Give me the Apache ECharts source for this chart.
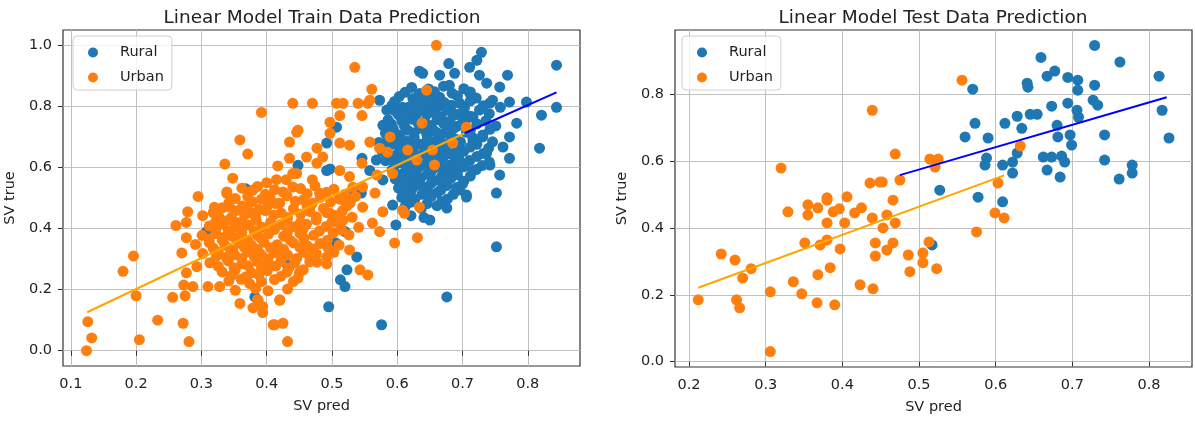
<!DOCTYPE html>
<html>
<head>
<meta charset="utf-8">
<title>Linear Model Prediction</title>
<script src="https://cdn.jsdelivr.net/npm/echarts@6/dist/echarts.min.js"></script>
<style>
  html, body { margin: 0; padding: 0; background: #fff; }
  #chart { width: 1195px; height: 421px; }
</style>
</head>
<body>
<div id="chart"></div>
<script>
// tick labels
const trainXTicks = [0.1, 0.2, 0.3, 0.4, 0.5, 0.6, 0.7, 0.8];
const trainYTicks = [0.0, 0.2, 0.4, 0.6, 0.8, 1.0];
const testXTicks = [0.2, 0.3, 0.4, 0.5, 0.6, 0.7, 0.8];
const testYTicks = [0.0, 0.2, 0.4, 0.6, 0.8];

// train data [SV pred, SV true]
const trainRural = [
  [0.368,0.53],[0.308,0.39],[0.448,0.607],[0.432,0.28],[0.382,0.176],
  [0.634,0.915],[0.573,0.82],[0.584,0.788],[0.608,0.797],[0.63,0.777],[0.507,0.732],[0.578,0.738],
  [0.492,0.68],[0.492,0.59],[0.546,0.63],[0.568,0.624],[0.558,0.59],[0.527,0.516],[0.545,0.516],
  [0.729,0.977],[0.722,0.951],[0.679,0.94],[0.688,0.908],[0.665,0.902],[0.711,0.928],[0.769,0.902],
  [0.844,0.935],[0.737,0.876],[0.726,0.902],[0.757,0.863],[0.639,0.908],[0.68,0.869],[0.711,0.843],
  [0.746,0.82],[0.772,0.814],[0.798,0.814],[0.844,0.797],[0.821,0.771],[0.818,0.663],[0.783,0.745],
  [0.772,0.70],[0.762,0.667],[0.772,0.63],[0.731,0.70],[0.742,0.608],[0.757,0.575],[0.752,0.516],
  [0.716,0.765],[0.696,0.81],[0.665,0.83],[0.65,0.797],[0.685,0.778],[0.7,0.745],[0.676,0.722],
  [0.645,0.712],[0.665,0.667],[0.716,0.69],[0.737,0.647],[0.7,0.614],[0.68,0.59],[0.716,0.59],
  [0.645,0.614],[0.665,0.56],[0.696,0.526],[0.65,0.516],[0.706,0.503],
  [0.589,0.732],[0.584,0.68],[0.599,0.634],[0.578,0.559],[0.497,0.595],
  [0.593,0.477],[0.65,0.428],[0.676,0.467],[0.598,0.412],[0.52,0.39],[0.506,0.353],[0.538,0.307],
  [0.523,0.265],[0.513,0.232],[0.52,0.21],[0.495,0.144],[0.576,0.085],[0.676,0.176],[0.752,0.34],
  [0.706,0.51],
  [0.622,0.862],[0.648,0.857],[0.671,0.866],[0.702,0.858],
  [0.603,0.832],[0.624,0.826],[0.643,0.835],[0.661,0.828],[0.692,0.834],[0.721,0.827],
  [0.592,0.803],[0.617,0.797],[0.641,0.806],[0.662,0.798],[0.683,0.804],[0.703,0.796],[0.732,0.802],[0.758,0.797],
  [0.602,0.772],[0.621,0.767],[0.646,0.775],[0.667,0.766],[0.691,0.773],[0.712,0.768],[0.741,0.776],
  [0.591,0.742],[0.611,0.736],[0.632,0.745],[0.652,0.737],[0.671,0.744],[0.692,0.735],[0.722,0.743],[0.751,0.736],
  [0.582,0.712],[0.603,0.706],[0.626,0.714],[0.646,0.705],[0.662,0.713],[0.681,0.707],[0.706,0.715],[0.731,0.706],
  [0.572,0.682],[0.596,0.677],[0.616,0.685],[0.636,0.676],[0.656,0.684],[0.676,0.675],[0.697,0.683],[0.722,0.676],[0.746,0.684],
  [0.577,0.652],[0.601,0.646],[0.621,0.655],[0.641,0.647],[0.661,0.654],[0.682,0.645],[0.702,0.653],[0.732,0.646],
  [0.582,0.622],[0.606,0.616],[0.627,0.625],[0.646,0.617],[0.666,0.624],[0.687,0.615],[0.711,0.623],[0.741,0.618],
  [0.592,0.592],[0.612,0.586],[0.631,0.595],[0.652,0.587],[0.671,0.594],[0.692,0.585],[0.721,0.593],
  [0.597,0.562],[0.617,0.556],[0.636,0.565],[0.657,0.557],[0.682,0.564],[0.702,0.555],
  [0.602,0.532],[0.622,0.526],[0.642,0.535],[0.667,0.527],[0.691,0.534],
  [0.607,0.502],[0.627,0.496],[0.652,0.505],[0.677,0.497],
  [0.612,0.472],[0.637,0.466],[0.661,0.475],
  [0.621,0.442],[0.641,0.436],
  [0.612,0.846],[0.634,0.842],[0.657,0.848],[0.684,0.843],[0.712,0.847],
  [0.596,0.816],[0.631,0.812],[0.652,0.818],[0.672,0.813],[0.712,0.818],[0.742,0.811],
  [0.596,0.786],[0.611,0.782],[0.632,0.788],[0.656,0.781],[0.676,0.787],[0.701,0.783],[0.726,0.788],
  [0.586,0.756],[0.607,0.752],[0.622,0.758],[0.642,0.751],[0.661,0.757],[0.681,0.752],[0.705,0.757],[0.736,0.753],
  [0.594,0.726],[0.616,0.722],[0.636,0.728],[0.656,0.721],[0.686,0.727],[0.712,0.722],[0.742,0.725],
  [0.586,0.696],[0.607,0.692],[0.626,0.698],[0.646,0.691],[0.666,0.697],[0.69,0.692],[0.716,0.697],
  [0.586,0.666],[0.606,0.662],[0.626,0.668],[0.646,0.661],[0.672,0.667],[0.692,0.662],[0.712,0.667],[0.74,0.663],
  [0.59,0.636],[0.612,0.632],[0.632,0.638],[0.652,0.631],[0.672,0.637],[0.694,0.632],[0.722,0.636],
  [0.596,0.606],[0.618,0.602],[0.638,0.608],[0.66,0.601],[0.68,0.607],[0.702,0.602],[0.73,0.606],
  [0.604,0.576],[0.624,0.572],[0.646,0.578],[0.668,0.571],[0.692,0.576],[0.712,0.572],
  [0.61,0.546],[0.63,0.542],[0.652,0.548],[0.676,0.541],[0.7,0.546],
  [0.616,0.516],[0.638,0.512],[0.662,0.518],[0.686,0.512],
  [0.62,0.486],[0.646,0.482],[0.668,0.488]
];

const trainUrban = [
  [0.126,0.095],[0.132,0.042],[0.124,0.0],[0.18,0.26],[0.196,0.31],[0.2,0.18],[0.205,0.036],
  [0.233,0.1],[0.256,0.175],[0.261,0.41],[0.272,0.09],[0.275,0.18],[0.273,0.215],[0.277,0.255],
  [0.281,0.03],[0.287,0.21],[0.277,0.37],[0.27,0.32],[0.277,0.42],[0.279,0.455],[0.293,0.275],
  [0.295,0.505],[0.31,0.21],[0.32,0.47],[0.323,0.31],[0.328,0.21],[0.333,0.37],[0.328,0.435],
  [0.343,0.47],[0.339,0.515],[0.348,0.33],[0.354,0.42],[0.359,0.155],[0.379,0.14],[0.387,0.165],
  [0.394,0.125],[0.42,0.165],[0.41,0.085],[0.425,0.09],[0.432,0.03],[0.374,0.22],
  [0.44,0.81],[0.392,0.78],[0.359,0.69],[0.371,0.644],[0.336,0.611],[0.348,0.565],[0.339,0.52],
  [0.435,0.683],[0.435,0.63],[0.417,0.605],[0.44,0.58],[0.446,0.715],[0.37,0.47],[0.379,0.526],
  [0.4,0.55],[0.415,0.56],[0.43,0.56],[0.405,0.503],[0.42,0.483],[0.325,0.438],
  [0.535,0.928],[0.47,0.81],[0.507,0.81],[0.517,0.81],[0.54,0.81],[0.555,0.81],[0.561,0.856],
  [0.558,0.82],[0.512,0.77],[0.546,0.77],[0.497,0.748],[0.448,0.722],[0.497,0.712],[0.477,0.663],
  [0.512,0.68],[0.527,0.673],[0.558,0.683],[0.461,0.634],[0.486,0.634],[0.573,0.663],[0.589,0.70],
  [0.585,0.65],[0.546,0.614],[0.477,0.614],[0.512,0.59],[0.527,0.57],[0.47,0.56],[0.569,0.575],
  [0.593,0.58],[0.446,0.58],[0.44,0.536],[0.481,0.516],[0.547,0.536],[0.566,0.516],[0.517,0.493],
  [0.466,0.47],[0.497,0.45],[0.547,0.47],[0.578,0.455],[0.611,0.45],[0.634,0.47],[0.616,0.657],
  [0.63,0.624],[0.517,0.428],[0.562,0.418],
  [0.66,1.0],[0.645,0.853],[0.638,0.745],[0.706,0.732],[0.685,0.68],[0.654,0.657],[0.657,0.608],
  [0.631,0.37],[0.596,0.353],[0.543,0.265],[0.555,0.248],[0.448,0.238],[0.42,0.167],[0.386,0.167],
  [0.412,0.085],[0.608,0.46],[0.573,0.39],[0.527,0.33],[0.492,0.307],[0.477,0.29],[0.45,0.255],
  [0.394,0.144],
  [0.362,0.532],[0.386,0.538],[0.412,0.527],[0.452,0.531],[0.474,0.54],[0.503,0.529],[0.532,0.535],
  [0.352,0.498],[0.371,0.505],[0.392,0.496],[0.431,0.507],[0.456,0.494],[0.482,0.502],[0.511,0.497],[0.536,0.505],
  [0.332,0.468],[0.363,0.474],[0.388,0.462],[0.402,0.476],[0.441,0.465],[0.462,0.472],[0.487,0.466],[0.523,0.474],
  [0.302,0.442],[0.346,0.436],[0.366,0.445],[0.383,0.438],[0.411,0.444],[0.432,0.436],[0.452,0.447],[0.476,0.438],[0.506,0.443],[0.531,0.437],
  [0.312,0.408],[0.333,0.414],[0.352,0.405],[0.372,0.412],[0.393,0.404],[0.421,0.413],[0.442,0.406],[0.461,0.414],[0.491,0.407],[0.512,0.411],[0.541,0.404],
  [0.301,0.378],[0.322,0.384],[0.346,0.376],[0.362,0.386],[0.386,0.377],[0.403,0.383],[0.426,0.375],[0.451,0.384],[0.472,0.378],[0.502,0.386],[0.526,0.379],
  [0.291,0.348],[0.312,0.354],[0.336,0.346],[0.358,0.352],[0.377,0.345],[0.396,0.355],[0.416,0.347],[0.441,0.353],[0.462,0.344],[0.482,0.351],[0.511,0.346],
  [0.302,0.318],[0.326,0.322],[0.351,0.314],[0.371,0.324],[0.391,0.316],[0.412,0.321],[0.432,0.313],[0.456,0.323],[0.476,0.317],[0.503,0.322],
  [0.313,0.288],[0.341,0.294],[0.362,0.285],[0.386,0.292],[0.402,0.284],[0.422,0.293],[0.443,0.286],[0.466,0.291],[0.492,0.284],
  [0.332,0.258],[0.352,0.264],[0.377,0.255],[0.401,0.262],[0.431,0.257],[0.456,0.265],
  [0.342,0.228],[0.361,0.234],[0.392,0.226],[0.412,0.233],[0.441,0.227],
  [0.352,0.198],[0.383,0.204],[0.402,0.196],[0.432,0.202],
  [0.372,0.518],[0.398,0.512],[0.425,0.52],[0.462,0.514],[0.492,0.519],[0.52,0.512],
  [0.342,0.484],[0.378,0.488],[0.414,0.482],[0.444,0.489],[0.47,0.483],[0.498,0.487],[0.528,0.484],
  [0.318,0.452],[0.352,0.458],[0.376,0.452],[0.398,0.459],[0.422,0.451],[0.466,0.456],[0.492,0.452],[0.516,0.458],
  [0.322,0.423],[0.342,0.428],[0.362,0.421],[0.384,0.427],[0.406,0.42],[0.431,0.426],[0.452,0.421],[0.476,0.428],[0.5,0.422],
  [0.322,0.396],[0.341,0.392],[0.362,0.398],[0.381,0.391],[0.412,0.397],[0.432,0.39],[0.456,0.398],[0.481,0.392],[0.515,0.395],
  [0.312,0.366],[0.332,0.362],[0.352,0.368],[0.371,0.361],[0.392,0.367],[0.436,0.362],[0.457,0.368],[0.493,0.362],
  [0.318,0.336],[0.344,0.332],[0.366,0.338],[0.386,0.331],[0.406,0.337],[0.426,0.332],[0.451,0.338],[0.472,0.333],[0.494,0.337],
  [0.338,0.306],[0.362,0.302],[0.381,0.308],[0.402,0.301],[0.422,0.307],[0.446,0.302],[0.466,0.306],
  [0.326,0.276],[0.35,0.272],[0.372,0.278],[0.392,0.271],[0.414,0.277],[0.434,0.272],
  [0.346,0.246],[0.368,0.242],[0.388,0.248],[0.422,0.244]
];

// test data [SV pred, SV true]
const testRural = [
  [0.729,0.946],[0.659,0.91],[0.762,0.896],[0.813,0.854],[0.667,0.854],[0.677,0.869],[0.694,0.85],
  [0.707,0.842],[0.707,0.812],[0.729,0.827],[0.641,0.833],[0.642,0.821],[0.57,0.815],[0.727,0.782],
  [0.733,0.767],[0.694,0.773],[0.706,0.752],[0.673,0.764],[0.708,0.731],[0.817,0.752],[0.826,0.669],
  [0.645,0.74],[0.654,0.74],[0.628,0.734],[0.612,0.713],[0.573,0.713],[0.634,0.698],[0.68,0.707],
  [0.681,0.672],[0.697,0.678],[0.699,0.648],[0.742,0.678],[0.56,0.672],[0.59,0.669],[0.628,0.624],
  [0.588,0.609],[0.622,0.597],[0.662,0.612],[0.673,0.612],[0.686,0.615],[0.69,0.597],[0.609,0.588],
  [0.586,0.588],[0.742,0.603],[0.667,0.573],[0.684,0.552],[0.778,0.588],[0.778,0.564],[0.761,0.546],
  [0.527,0.513],[0.577,0.492],[0.609,0.478],[0.622,0.564],[0.517,0.349]
];

const testUrban = [
  [0.439,0.752],[0.32,0.579],[0.436,0.534],[0.449,0.537],[0.38,0.49],[0.406,0.493],[0.212,0.185],
  [0.242,0.322],[0.26,0.304],[0.262,0.185],[0.266,0.161],[0.27,0.25],[0.281,0.278],[0.306,0.209],
  [0.306,0.03],[0.329,0.448],[0.336,0.239],[0.347,0.203],[0.351,0.355],[0.355,0.469],[0.355,0.439],
  [0.368,0.46],[0.368,0.26],[0.367,0.176],[0.371,0.349],[0.38,0.483],[0.38,0.415],[0.38,0.364],
  [0.384,0.281],[0.39,0.17],[0.388,0.448],[0.396,0.457],[0.403,0.415],[0.397,0.337],[0.423,0.23],
  [0.416,0.445],[0.425,0.46],[0.439,0.43],[0.44,0.218],[0.443,0.355],[0.443,0.316],[0.453,0.4],
  [0.458,0.439],[0.458,0.334],[0.466,0.483],[0.469,0.415],[0.466,0.355],[0.486,0.319],[0.488,0.269],
  [0.505,0.325],[0.505,0.296],[0.513,0.358],[0.523,0.278],[0.599,0.445],[0.611,0.43],[0.575,0.388],
  [0.556,0.842],[0.632,0.645],[0.469,0.621],[0.514,0.606],[0.525,0.606],[0.521,0.582],[0.475,0.543],
  [0.452,0.537],[0.603,0.534]
];

// fitted lines [start, end]
const trainFitRural = [[0.703, 0.712], [0.844, 0.846]];
const trainFitUrban = [[0.125, 0.126], [0.703, 0.712]];
const testFitRural = [[0.475, 0.558], [0.823, 0.791]];
const testFitUrban = [[0.212, 0.221], [0.611, 0.557]];

const FONT = "DejaVu Sans";
const TEXT = "#222";
const BLUE = "#1f77b4";
const ORANGE = "#ff7f0e";

function xAxisOf(grid, min, max, ticks) {
  return {
    type: "value", gridIndex: grid, min: min, max: max,
    name: "SV pred", nameLocation: "middle", nameGap: 33,
    nameTextStyle: { fontFamily: FONT, fontSize: 14.5, color: TEXT },
    axisLine: { show: false },
    axisTick: { show: true, length: 5, customValues: ticks, lineStyle: { color: "#333" } },
    axisLabel: {
      customValues: ticks, margin: 11, fontFamily: FONT, fontSize: 14.5, color: TEXT,
      formatter: v => v.toFixed(1)
    },
    splitLine: { show: true, lineStyle: { color: "#c0c0c0", width: 1 } }
  };
}

function yAxisOf(grid, min, max, ticks) {
  return {
    type: "value", gridIndex: grid, min: min, max: max,
    name: "SV true", nameLocation: "middle", nameGap: 45, nameRotate: 90,
    nameTextStyle: { fontFamily: FONT, fontSize: 14.5, color: TEXT },
    axisLine: { show: false },
    axisTick: { show: true, length: 5, customValues: ticks, lineStyle: { color: "#333" } },
    axisLabel: {
      customValues: ticks, margin: 11, fontFamily: FONT, fontSize: 14.5, color: TEXT,
      formatter: v => v.toFixed(1)
    },
    splitLine: { show: true, lineStyle: { color: "#c0c0c0", width: 1 } }
  };
}

function legendAt(left) {
  return {
    data: ["Rural", "Urban"], left: left, top: 36, orient: "vertical",
    icon: "circle", itemWidth: 10, itemHeight: 10, itemGap: 10,
    padding: [9, 8, 5, 15],
    backgroundColor: "rgba(255,255,255,0.8)", borderColor: "#d0d0d0", borderWidth: 1, borderRadius: 4,
    textStyle: { fontFamily: FONT, fontSize: 14.5, color: TEXT, lineHeight: 14, padding: [0, 0, 0, 17] }
  };
}

function scatter(name, idx, data, color) {
  return {
    name: name, type: "scatter", xAxisIndex: idx, yAxisIndex: idx,
    data: data, symbolSize: 11, itemStyle: { color: color, opacity: 1 }, z: 2
  };
}

function fit(idx, data, color) {
  return {
    name: "fit", type: "line", xAxisIndex: idx, yAxisIndex: idx,
    data: data, showSymbol: false, silent: true,
    lineStyle: { color: color, width: 2 }, z: 3
  };
}

const chart = echarts.init(document.getElementById("chart"));
chart.setOption({
  animation: false,
  backgroundColor: "#fff",
  title: [
    { text: "Linear Model Train Data Prediction", left: 317, top: 4, textAlign: "center",
      textStyle: { fontFamily: FONT, fontSize: 18.5, fontWeight: "normal", color: TEXT } },
    { text: "Linear Model Test Data Prediction", left: 928, top: 4, textAlign: "center",
      textStyle: { fontFamily: FONT, fontSize: 18.5, fontWeight: "normal", color: TEXT } }
  ],
  legend: [legendAt(73), legendAt(682)],
  grid: [
    { left: 63, top: 30, width: 517, height: 336, show: true, borderColor: "#333", borderWidth: 1.2, backgroundColor: "transparent" },
    { left: 675, top: 30, width: 517, height: 337, show: true, borderColor: "#333", borderWidth: 1.2, backgroundColor: "transparent" }
  ],
  xAxis: [
    xAxisOf(0, 0.088, 0.880, trainXTicks),
    xAxisOf(1, 0.1817, 0.856, testXTicks)
  ],
  yAxis: [
    yAxisOf(0, -0.05, 1.05, trainYTicks),
    yAxisOf(1, -0.016, 0.992, testYTicks)
  ],
  series: [
    scatter("Rural", 0, trainRural, BLUE),
    scatter("Urban", 0, trainUrban, ORANGE),
    fit(0, trainFitRural, "#0000ff"),
    fit(0, trainFitUrban, "#ffa500"),
    scatter("Rural", 1, testRural, BLUE),
    scatter("Urban", 1, testUrban, ORANGE),
    fit(1, testFitRural, "#0000ff"),
    fit(1, testFitUrban, "#ffa500")
  ]
});
</script>
</body>
</html>
